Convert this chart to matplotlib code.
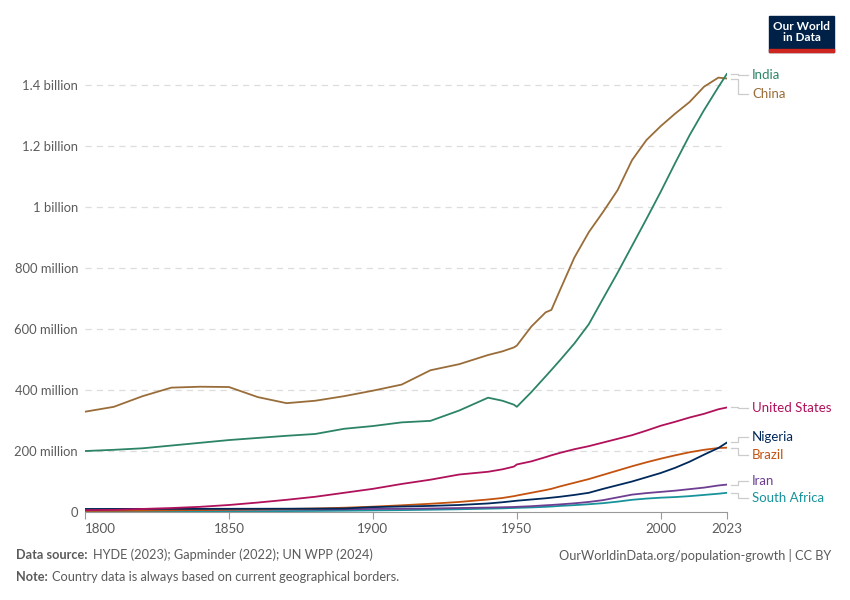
import numpy as np
import matplotlib.pyplot as plt
from matplotlib.lines import Line2D
from matplotlib.patches import Rectangle

plt.rcParams['font.family'] = ['Lato', 'DejaVu Sans']

# years shared by all series
years = [1800, 1810, 1820, 1830, 1840, 1850, 1860, 1870, 1880, 1890,
         1900, 1910, 1920, 1930, 1940, 1945, 1949, 1950, 1955, 1960,
         1962, 1965, 1970, 1975, 1980, 1985, 1990, 1995, 2000, 2005,
         2010, 2015, 2020, 2023]

# population in millions
china = [329, 345, 380, 408, 411, 410, 377, 357, 365, 380,
         398, 418, 465, 485, 515, 527, 540, 546, 608, 655,
         663, 728, 835, 918, 985, 1056, 1154, 1220, 1266, 1307,
         1345, 1395, 1425, 1422]
india = [200, 204, 209, 218, 227, 236, 243, 250, 256, 273,
         282, 294, 299, 333, 375, 365, 352, 345, 393, 445,
         466, 498, 553, 616, 701, 785, 873, 961, 1051, 1145,
         1236, 1318, 1394, 1438]
usa = [6, 7, 10, 13, 17, 23, 31, 40, 50, 63,
       76, 92, 106, 123, 132, 140, 149, 156, 166, 180,
       186, 194, 206, 216, 228, 240, 252, 267, 283, 296,
       310, 322, 337, 343]
nigeria = [10, 10.1, 10.2, 10.3, 10.4, 10.5, 10.6, 10.8, 11, 11.5,
           16, 18, 20, 23, 28, 32, 36, 37, 41, 45,
           47, 50, 56, 63, 76, 88, 100, 114, 128, 145,
           165, 188, 210, 228]
brazil = [3.5, 4, 4.6, 5.5, 6.5, 7.5, 8.5, 9.8, 11.5, 14,
          17.5, 22, 27, 33, 41, 46, 52, 54, 63, 72,
          76, 84, 96, 108, 122, 136, 150, 163, 175, 186,
          196, 204, 210, 211]
iran = [6, 6.1, 6.3, 6.5, 7, 7.5, 8, 8.3, 8.5, 9,
        10, 10.5, 11.5, 13, 14.5, 15.5, 16.5, 17, 19, 22,
        23, 25, 28.5, 33, 39, 48, 57, 62, 66, 70,
        75, 80, 87, 90]
south_africa = [1.4, 1.5, 1.6, 1.8, 2, 2.3, 2.6, 3, 3.5, 4.2,
                5.2, 6.2, 7.5, 9, 11, 12, 13.3, 13.6, 15, 17,
                18, 20, 22.5, 25.5, 29, 34, 40, 44, 47, 49,
                52, 56, 60, 63]

series = [
    ('India', india, '#2C8465', 75),
    ('China', china, '#996D39', 94),
    ('United States', usa, '#B0115A', 408),
    ('Nigeria', nigeria, '#00295B', 437),
    ('Brazil', brazil, '#C4520F', 455),
    ('Iran', iran, '#6D3E91', 481),
    ('South Africa', south_africa, '#18939B', 498),
]

W, H = 850, 600
fig = plt.figure(figsize=(8.5, 6), dpi=100)
ax = fig.add_axes([85 / W, 88 / H, 642 / W, 442 / H])

# small ones first so the big lines stay on top
for name, vals, col, ly in series[::-1]:
    ax.plot(years, np.array(vals) * 1e6, color=col, lw=1.3,
            solid_joinstyle='round', solid_capstyle='round')

ax.set_xlim(1800, 2023)
ax.set_ylim(0, 1.45e9)

yt = [0, 200e6, 400e6, 600e6, 800e6, 1e9, 1.2e9, 1.4e9]
ytl = ['0', '200 million', '400 million', '600 million', '800 million',
       '1 billion', '1.2 billion', '1.4 billion']
ax.set_yticks(yt)
ax.set_yticklabels(ytl)
ax.set_xticks([1800, 1850, 1900, 1950, 2000, 2023])
ax.set_xticklabels(['1800', '1850', '1900', '1950', '2000', '2023'])
ax.get_xticklabels()[0].set_horizontalalignment('left')

for v in yt[1:]:
    ax.axhline(v, color='#dddddd', lw=0.9, ls=(0, (5, 4)), zorder=0)

for s in ['top', 'right', 'left']:
    ax.spines[s].set_visible(False)
ax.spines['bottom'].set_color('#999999')
ax.tick_params(axis='y', length=0, pad=5, labelsize=9.4, labelcolor='#5b5b5b')
ax.tick_params(axis='x', length=5, color='#999999', pad=3, labelsize=9.6,
               labelcolor='#5b5b5b')

# labels at the right end with connector lines
fig.canvas.draw()
for name, vals, col, ly in series:
    _, yd = ax.transData.transform((2023, vals[-1] * 1e6))
    yend = H - yd
    pts_x = [731, 738, 738, 748]
    pts_y = [yend, yend, ly, ly]
    fig.add_artist(Line2D([x / W for x in pts_x], [1 - y / H for y in pts_y],
                          color='#cccccc', lw=0.9, transform=fig.transFigure))
    fig.text(752 / W, 1 - ly / H, name, color=col, fontsize=9.5, va='center', ha='left')

# logo
fig.add_artist(Rectangle((769 / W, 1 - 52 / H), 65 / W, 36 / H, color='#002147',
                         transform=fig.transFigure))
fig.add_artist(Rectangle((769 / W, 1 - 52 / H), 65 / W, 3 / H, color='#CE261E',
                         transform=fig.transFigure))
fig.text(801.5 / W, 1 - 32 / H, 'Our World\nin Data', color='white', fontsize=8.5,
         fontweight='bold', ha='center', va='center', linespacing=0.95)

# footer
fs = 9.2
fig.text(16 / W, 1 - 555 / H, 'Data source:', color='#5b5b5b', fontsize=fs,
         fontweight='bold', va='center')
fig.text(93 / W, 1 - 555 / H, 'HYDE (2023); Gapminder (2022); UN WPP (2024)',
         color='#5b5b5b', fontsize=fs, va='center')
fig.text(16 / W, 1 - 577 / H, 'Note:', color='#5b5b5b', fontsize=fs,
         fontweight='bold', va='center')
fig.text(52 / W, 1 - 577 / H, 'Country data is always based on current geographical borders.',
         color='#5b5b5b', fontsize=fs, va='center')
fig.text(831 / W, 1 - 555 / H, 'OurWorldinData.org/population-growth | CC BY',
         color='#5b5b5b', fontsize=fs, va='center', ha='right')

fig.savefig('out.png', dpi=100, facecolor='white')
